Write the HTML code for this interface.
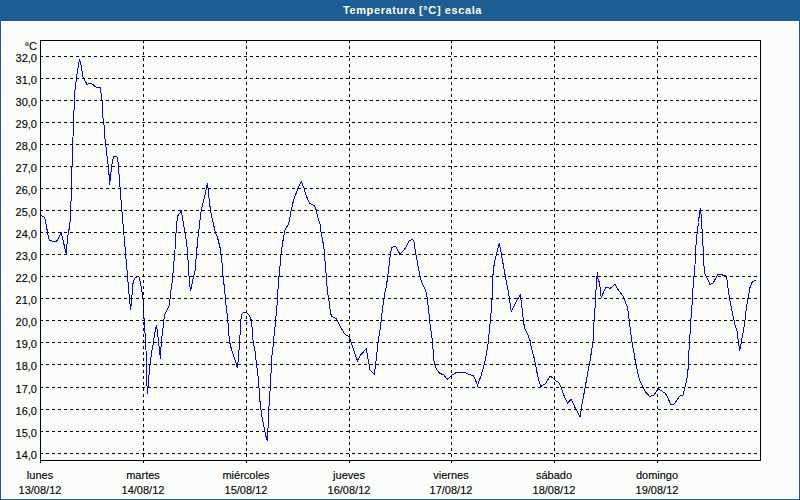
<!DOCTYPE html>
<html><head><meta charset="utf-8"><style>
*{margin:0;padding:0;box-sizing:border-box}
html,body{width:800px;height:500px;overflow:hidden;background:#fbfdfb}
body{position:relative;font-family:"Liberation Sans",sans-serif;font-size:11px;color:#000}
#frame{position:absolute;left:0;top:0;width:800px;height:500px;border:1px solid #1a5a90;border-top:none}
#inner{position:absolute;left:1px;top:21px;width:798px;height:478px;border:1px solid #fff}
#title{position:absolute;left:0;top:0;width:800px;height:21px;background:#1d5c91;color:#fff;font-weight:bold;font-size:11px;line-height:21px;text-align:center}
#title span{position:absolute;left:343px;top:0;letter-spacing:0.6px}
svg{position:absolute;left:0;top:0}
.yl,.xl{-webkit-text-stroke:0.12px #000}
.yl{position:absolute;left:0;width:37px;text-align:right;line-height:14px;height:14px}
.xl{position:absolute;width:80px;text-align:center;line-height:14px;height:14px}
</style></head><body>
<div id="frame"></div>
<div id="inner"></div>
<div id="title"><svg width="800" height="21" style="position:absolute;left:0;top:0"><defs><pattern id="dp" width="4" height="4" patternUnits="userSpaceOnUse"><rect x="0" y="0" width="1" height="1" fill="#2461a8"/><rect x="2" y="2" width="1" height="1" fill="#2461a8"/></pattern></defs><rect width="800" height="21" fill="url(#dp)"/></svg><span>Temperatura [°C] escala</span></div>
<svg width="800" height="500" viewBox="0 0 800 500">
<polyline points="40.6,215.4 43.8,216.5 45,218.75 48.75,238.75 50,240.6 56.25,241.9 61.25,233 66.25,253.75 67.5,237.5 69.4,227.5 70.6,217.5 71.5,182 72.75,142.5 73.75,120 74.4,95 75.4,87.5 76.5,78 77.5,71 79.4,59.4 81.3,66 83,77 87,84.4 90,83 92,84 96,87 100.4,87 101,93 102.5,105 103.1,120 104.4,127.5 105,138.75 106.25,148.75 107.5,160 108.75,170 109.6,184.5 111.25,170 112.5,160 113.75,156.9 116.9,156.25 118.1,162.5 119,173.75 120.6,195 122.5,217.5 123.75,232.5 125.6,253.75 127.5,276 128.75,291.25 130.6,310 131.9,296.25 133.1,282.5 135,278 138.75,276.25 139.75,279.4 141.9,291.25 143.1,300 143.75,312.5 144.75,332 145.6,336.25 146.25,358.75 146.9,382 147.25,393.75 148.1,387.5 148.75,378.75 149.4,370 150.6,360 151.9,351 153.1,345 154.4,335 156.5,325 158.1,337.5 160.4,358.75 161.25,342.5 162.5,332.5 163.75,322 164.4,315.6 169.4,305.6 170.6,292.5 172.5,280 173.75,263.75 175,250 175.6,237.5 176.9,222.5 177.5,216.25 181.25,211.25 182.5,217.5 185,232.5 186.9,245 188.1,261 189.4,282 190.6,291.25 192.5,281.25 195,271.25 196.9,248.75 198.1,236 199.4,226 200,220 201.25,210 204.4,197.5 207.5,183 208.75,196.25 210.6,211.25 215,231 217.5,237.5 220,247.5 221.25,256 222.5,267.5 223.1,277.5 224.4,287.5 225.6,301 227.5,317.5 228.75,332 229.4,341 231.9,351 235,360 237.25,367.5 238.1,361 239.4,346 240,335 241.25,315 243.1,313 246.25,312 249.4,315.6 251.25,320 252.5,332 253.1,341 255,351 256.25,362.5 257.5,371 258.75,382.5 259.4,396 261.25,412.5 263.75,426 265.6,435 267.25,441 267.9,431 268.75,410 270,391 270.6,380 271.25,369 271.9,356 273.1,346 273.75,337.5 274.75,330 275.6,320 276.9,307.5 277.5,295 278.75,281 279.4,270 280,266 281.25,252.5 282.5,243.75 283.75,236 285,230 288.75,223.75 291,211 293.6,200 296.9,191 301.25,181.5 303.75,187.5 306.25,196 310,203.75 314.4,205.6 316.25,210 318.1,218.75 320,223.75 320.6,230 322.5,240 323.75,246 325,261 326.25,276 327.5,292 328.75,298.75 330.6,313.75 331.9,316.25 336.25,318.75 340,326.25 343.75,332.5 346.25,335 348.75,336.25 351.25,342.5 351.9,345 357.5,361 360.6,355 366.25,348.75 370,370 374.4,374.4 376.25,358.75 378.1,342.5 380,330 381.25,320 382.5,308.75 383.75,300 385,292.5 386.25,287 388.1,273.75 389.4,262.5 390.6,252.5 391.9,247.5 395.6,246.25 400,254.4 405.6,248 408.75,241.25 412.5,239.4 413.75,240.6 415.6,252.5 418.1,266 420.6,278.75 421.9,282.5 425.6,290 426.9,296.25 428.75,311.25 430,323.75 431.25,332.5 432.5,342 433.75,360 436.25,368.75 439.4,373 443.75,375 447.25,379.4 451.9,375 456.9,372.25 465,372.25 468.75,374.4 473.1,375.6 475,378.75 477.5,385.6 481.25,375 484.4,363.75 486.25,355 488.1,343.75 489.4,330 490.6,317.5 491.9,302.5 492.5,287.5 493.1,272.5 494.4,262.5 496.25,255 499.4,243 501.25,253.75 503.75,267.5 506.25,281.25 508.75,294 511.25,311.25 516.25,301.25 520.4,295 521.9,307.5 523.1,317.5 524.4,327.5 527.5,333.75 530.6,342 531.25,347.5 533.75,356.25 535.6,365 537.5,375 540.6,386.5 545.6,383.75 550,376.25 552.5,377.5 556.25,381.25 558.75,382.5 561.25,387.5 563.75,395 567.5,403 571.25,399.4 575,407.5 580,417 581.9,405 583.75,395 585.6,385 587.5,373.75 590,361.25 591.9,348.75 593.1,340 594,322 594.75,312.5 595.6,297.5 596.5,281.25 597.5,271.9 598.1,280 599.4,282 601.25,297.5 605.6,287.5 608.1,287.25 610,288.5 615,284.4 618.75,290.6 623.1,296.25 625,301.25 627.5,307.5 629.4,322 630.6,332.5 632.5,345 634.4,355 635.6,363.75 637.5,371.25 639.4,380 642.5,386.25 645.6,391.9 649.4,396.25 653.75,395.6 658.1,388.75 665,393.1 667.5,396.9 670.6,404.5 674.4,404 679.4,396.25 683.1,395 685,387.5 686.9,378.75 688.1,368.75 688.75,353.75 689.75,338.75 690.6,322.5 691.9,307.5 692.5,293.75 693.75,278.75 695,265 695.6,251 696.5,238.75 697.5,230 698.5,222.5 699.4,213.75 700.4,208 701.25,216.25 702.25,232.5 703.1,247.5 703.75,262 704.4,272.5 707.5,278.75 710,284.4 713.1,283.1 717.5,275 720,274.4 725,275.6 726.9,278.75 728.75,293.75 731.25,307.5 734.4,322 735,325 736.9,330 738.1,340 739.6,350.6 741.25,342.5 743.1,332.5 744.4,325 745.6,315 746.25,308.75 748.1,297.5 750,287.5 751.9,282.5 755.6,280" fill="none" stroke="#0000ff" stroke-width="1" shape-rendering="crispEdges"/>
<path d="M40 56.5H760M40 78.5H760M40 100.5H760M40 122.5H760M40 144.5H760M40 166.5H760M40 188.5H760M40 210.5H760M40 232.5H760M40 254.5H760M40 276.5H760M40 298.5H760M40 320.5H760M40 342.5H760M40 364.5H760M40 387.5H760M40 409.5H760M40 431.5H760M40 453.5H760M143.5 40V463M246.5 40V463M349.5 40V463M451.5 40V463M554.5 40V463M657.5 40V463" stroke="#000" stroke-width="1" stroke-dasharray="3 3" fill="none" shape-rendering="crispEdges"/>
<path d="M40.5 40V463M40 40.5H760.5V460.5H40" stroke="#000" stroke-width="1" fill="none" shape-rendering="crispEdges"/>
</svg>
<div class="yl" style="top:39px">°C</div>
<div class="yl" style="top:51px">32,0</div><div class="yl" style="top:73px">31,0</div><div class="yl" style="top:95px">30,0</div><div class="yl" style="top:117px">29,0</div><div class="yl" style="top:139px">28,0</div><div class="yl" style="top:161px">27,0</div><div class="yl" style="top:183px">26,0</div><div class="yl" style="top:205px">25,0</div><div class="yl" style="top:227px">24,0</div><div class="yl" style="top:249px">23,0</div><div class="yl" style="top:271px">22,0</div><div class="yl" style="top:293px">21,0</div><div class="yl" style="top:315px">20,0</div><div class="yl" style="top:337px">19,0</div><div class="yl" style="top:359px">18,0</div><div class="yl" style="top:382px">17,0</div><div class="yl" style="top:404px">16,0</div><div class="yl" style="top:426px">15,0</div><div class="yl" style="top:448px">14,0</div>
<div class="xl" style="left:0px;top:468px">lunes</div><div class="xl" style="left:0px;top:483px">13/08/12</div><div class="xl" style="left:103px;top:468px">martes</div><div class="xl" style="left:103px;top:483px">14/08/12</div><div class="xl" style="left:206px;top:468px">miércoles</div><div class="xl" style="left:206px;top:483px">15/08/12</div><div class="xl" style="left:309px;top:468px">jueves</div><div class="xl" style="left:309px;top:483px">16/08/12</div><div class="xl" style="left:411px;top:468px">viernes</div><div class="xl" style="left:411px;top:483px">17/08/12</div><div class="xl" style="left:514px;top:468px">sábado</div><div class="xl" style="left:514px;top:483px">18/08/12</div><div class="xl" style="left:617px;top:468px">domingo</div><div class="xl" style="left:617px;top:483px">19/08/12</div>
</body></html>
